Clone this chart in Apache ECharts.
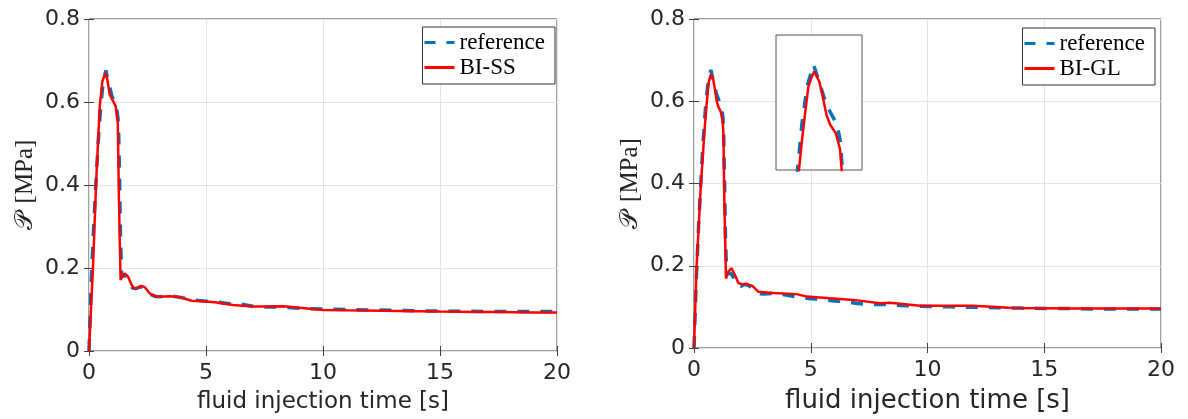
<!DOCTYPE html>
<html>
<head>
<meta charset="utf-8">
<title>fluid injection pressure</title>
<script src="https://cdn.jsdelivr.net/npm/echarts@6/dist/echarts.min.js"></script>
<style>
  html, body { margin: 0; padding: 0; background: #fff; }
  #main { width: 1188px; height: 419px; }
</style>
</head>
<body>
<div id="main"></div>
<script>
// reference solution (blue dashed, same in both panels)
var refT = [0, 0.1, 0.2, 0.3, 0.4, 0.5, 0.6, 0.72, 0.85, 0.97, 1.08, 1.17, 1.24, 1.27, 1.31, 1.35, 1.4, 1.48, 1.58, 1.7, 1.85, 2.0, 2.2, 2.4, 2.6, 2.8, 3.0, 3.5, 4.0, 4.5, 5.0, 5.5, 6.0, 6.5, 7.0, 7.5, 8.0, 8.5, 9, 10, 11, 12, 13, 14, 15, 16, 17, 18, 19, 20];
var refP = [0, 0.17, 0.30, 0.41, 0.51, 0.59, 0.645, 0.676, 0.645, 0.616, 0.600, 0.588, 0.56, 0.52, 0.40, 0.26, 0.18, 0.178, 0.182, 0.17, 0.152, 0.15, 0.155, 0.15, 0.137, 0.132, 0.131, 0.133, 0.128, 0.123, 0.12, 0.118, 0.114, 0.113, 0.108, 0.106, 0.106, 0.105, 0.103, 0.101, 0.100, 0.099, 0.098, 0.097, 0.096, 0.096, 0.095, 0.095, 0.095, 0.095];

// BI-SS (left panel, red)
var ssT = [0, 0.17, 0.31, 0.46, 0.57, 0.70, 0.78, 0.885, 1.03, 1.14, 1.23, 1.28, 1.35, 1.43, 1.52, 1.67, 1.8, 1.91, 2.05, 2.24, 2.38, 2.59, 2.88, 3.45, 3.88, 4.38, 5.0, 5.45, 6.15, 7.0, 7.58, 8.3, 9.0, 10, 11, 12.5, 14, 15, 16.5, 17.5, 19, 20];
var ssP = [0, 0.203, 0.413, 0.59, 0.65, 0.670, 0.655, 0.618, 0.602, 0.59, 0.55, 0.364, 0.171, 0.180, 0.187, 0.179, 0.162, 0.151, 0.152, 0.157, 0.154, 0.139, 0.131, 0.132, 0.130, 0.121, 0.119, 0.117, 0.111, 0.107, 0.107, 0.108, 0.104, 0.099, 0.098, 0.097, 0.096, 0.095, 0.094, 0.094, 0.093, 0.093];

// BI-GL (right panel, red)
var glT = [0, 0.11, 0.29, 0.44, 0.5, 0.56, 0.62, 0.685, 0.735, 0.83, 0.91, 0.97, 1.04, 1.15, 1.23, 1.26, 1.30, 1.37, 1.47, 1.61, 1.76, 1.9, 2.05, 2.26, 2.5, 2.75, 3.4, 4.4, 4.83, 5.82, 6.82, 7.97, 8.4, 9.68, 11.96, 13.68, 16.2, 20];
var glP = [0, 0.198, 0.393, 0.52, 0.565, 0.605, 0.643, 0.658, 0.666, 0.651, 0.624, 0.601, 0.587, 0.574, 0.55, 0.52, 0.36, 0.169, 0.186, 0.194, 0.177, 0.158, 0.155, 0.156, 0.151, 0.137, 0.134, 0.131, 0.125, 0.121, 0.117, 0.109, 0.110, 0.103, 0.103, 0.097, 0.096, 0.096];

function zip(t, p) {
    var out = [];
    for (var i = 0; i < t.length; i++) out.push([t[i], p[i]]);
    return out;
}

var axisColor = '#404040';
var gridColor = '#e3e3e3';
var blue = '#0072bd';
var red = '#ff0000';
// legend glyphs: a solid bar and a dashed bar
var solidIcon = 'path://M0,0h30v3h-30z';
var dashIcon = 'path://M0,0h11v3h-11zM22,0h8v3h-8z';

function xMain(grid, nameSize) {
    return {
        type: 'value', gridIndex: grid, min: 0, max: 20, interval: 5,
        name: 'fluid injection time [s]', nameLocation: 'middle', nameGap: 40,
        nameTextStyle: { fontFamily: 'DejaVu Sans', fontSize: nameSize, color: '#262626' },
        axisLine: { show: false },
        axisTick: { show: true, inside: true, length: 5, lineStyle: { color: axisColor } },
        axisLabel: { fontFamily: 'DejaVu Sans', fontSize: 22, color: '#262626', margin: 11 },
        splitLine: { show: true, lineStyle: { color: gridColor, width: 1 } }
    };
}
function xTop(grid) {
    return {
        type: 'value', gridIndex: grid, position: 'top', min: 0, max: 20, interval: 5,
        axisLine: { show: false },
        axisTick: { show: true, inside: true, length: 5, lineStyle: { color: axisColor } },
        axisLabel: { show: false }, splitLine: { show: false }
    };
}
function yMain(grid) {
    return {
        type: 'value', gridIndex: grid, min: 0, max: 0.8, interval: 0.2,
        name: '{p|𝒫}{u|[MPa]}', nameLocation: 'middle', nameRotate: 90, nameGap: 51,
        nameTextStyle: {
            rich: {
                p: { fontFamily: 'DejaVu Serif', fontSize: 25, color: '#262626', padding: [0, 9, 0, 0] },
                u: { fontFamily: 'Liberation Serif', fontSize: 25, color: '#262626' }
            }
        },
        axisLine: { show: false },
        axisTick: { show: true, inside: true, length: 5, lineStyle: { color: axisColor } },
        axisLabel: {
            fontFamily: 'DejaVu Sans', fontSize: 22, color: '#262626', margin: 9,
            formatter: function (v) { return v === 0 ? '0' : v.toFixed(1); }
        },
        splitLine: { show: true, lineStyle: { color: gridColor, width: 1 } }
    };
}
function yRight(grid) {
    return {
        type: 'value', gridIndex: grid, position: 'right', min: 0, max: 0.8, interval: 0.2,
        axisLine: { show: false },
        axisTick: { show: true, inside: true, length: 5, lineStyle: { color: axisColor } },
        axisLabel: { show: false }, splitLine: { show: false }
    };
}
function refSeries(name, xi, yi, t, p) {
    return {
        name: name, type: 'line', xAxisIndex: xi, yAxisIndex: yi,
        data: zip(t, p), symbol: 'none', z: 2,
        lineStyle: { color: blue, width: 3.5, type: [12, 11] },
        itemStyle: { color: blue }
    };
}
function redSeries(name, xi, yi, t, p) {
    return {
        name: name, type: 'line', xAxisIndex: xi, yAxisIndex: yi,
        data: zip(t, p), symbol: 'none', z: 3,
        lineStyle: { color: red, width: 2.5 },
        itemStyle: { color: red }
    };
}
function legendBox(redName, right, top) {
    return {
        orient: 'vertical', right: right, top: top,
        data: [{ name: 'reference', icon: dashIcon }, { name: redName, icon: solidIcon }],
        itemWidth: 30, itemHeight: 3, itemGap: 0,
        padding: [3, 10, 4, 2],
        borderColor: '#333', borderWidth: 1, borderRadius: 0, backgroundColor: '#fff',
        selectedMode: false,
        itemStyle: { borderWidth: 0 },
        lineStyle: { width: 0 },
        textStyle: { fontFamily: 'Liberation Serif', fontSize: 23, color: '#000', lineHeight: 25 }
    };
}

var chart = echarts.init(document.getElementById('main'));
var option = {
    backgroundColor: '#fff',
    animation: false,
    grid: [
        { left: 89, top: 19, width: 468, height: 332, show: true, borderColor: axisColor, borderWidth: 1, backgroundColor: 'transparent' },
        { left: 694, top: 19, width: 467, height: 329, show: true, borderColor: axisColor, borderWidth: 1, backgroundColor: 'transparent' },
        { left: 776, top: 35, width: 86, height: 135, show: true, borderColor: '#555', borderWidth: 1, backgroundColor: '#fff', z: 5 }
    ],
    xAxis: [
        xMain(0, 23), xTop(0), xMain(1, 26), xTop(1),
        { type: 'value', gridIndex: 2, min: 0, max: 1.65, show: false, splitLine: { show: false } }
    ],
    yAxis: [
        yMain(0), yRight(0), yMain(1), yRight(1),
        { type: 'value', gridIndex: 2, min: 0.52, max: 0.72, show: false, splitLine: { show: false } }
    ],
    legend: [
        legendBox('BI-SS', 633, 27),
        legendBox('BI-GL', 33, 28)
    ],
    series: [
        refSeries('reference', 0, 0, refT, refP),
        redSeries('BI-SS', 0, 0, ssT, ssP),
        refSeries('reference', 2, 2, refT, refP),
        redSeries('BI-GL', 2, 2, glT, glP),
        Object.assign(refSeries('reference (inset)', 4, 4, refT, refP), { z: 6 }),
        Object.assign(redSeries('BI-GL (inset)', 4, 4, glT, glP), { z: 7 })
    ]
};
chart.setOption(option);
</script>
</body>
</html>
